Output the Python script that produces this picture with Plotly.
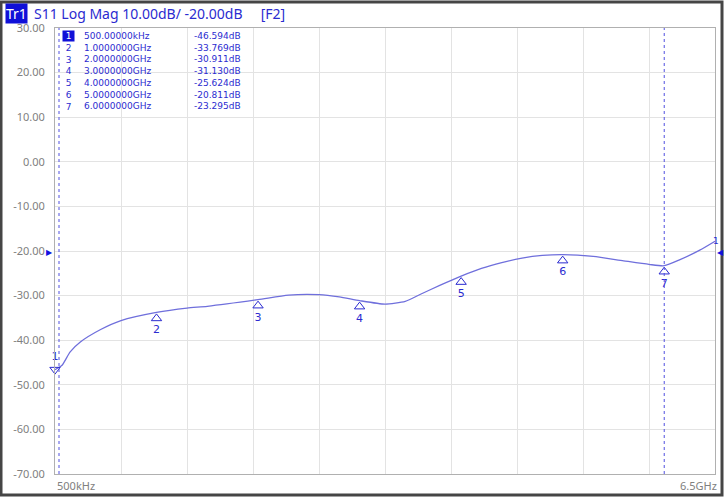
import plotly.graph_objects as go

# ---- data ----
freq_ghz = [0.0005, 0.07, 0.15, 0.25, 0.45, 0.65, 1.0, 1.3, 1.5, 2.0, 2.3, 2.6, 2.8,
            3.0, 3.25, 3.45, 3.6, 3.8, 4.0, 4.2, 4.4, 4.6, 4.8, 5.0, 5.3, 5.6,
            5.85, 6.0, 6.15, 6.35, 6.5]
s11_db = [-46.6, -45.6, -42.6, -40.4, -37.6, -35.6, -33.77, -32.8, -32.4, -30.91, -29.9,
          -29.8, -30.3, -31.13, -31.9, -31.3, -29.7, -27.6, -25.62, -23.9, -22.6, -21.6,
          -21.0, -20.81, -21.2, -22.2, -23.0, -23.3, -22.0, -19.8, -17.8]

marker_ids = ["1", "2", "3", "4", "5", "6", "7"]
marker_freq = [0.0005, 1.0, 2.0, 3.0, 4.0, 5.0, 6.0]
marker_db = [-46.594, -33.769, -30.911, -31.130, -25.624, -20.811, -23.295]
marker_freq_labels = ["500.00000kHz", "1.0000000GHz", "2.0000000GHz", "3.0000000GHz",
                      "4.0000000GHz", "5.0000000GHz", "6.0000000GHz"]

y_ticks = [30, 20, 10, 0, -10, -20, -30, -40, -50, -60, -70]
x_start, x_stop = 0.0005, 6.5
title_trace = "Tr1"
title_text = "S11 Log Mag 10.00dB/ -20.00dB     [F2]"
x_start_label, x_stop_label = "500kHz", "6.5GHz"

BLUE = "#2b2bd0"
LINE = "#6f6fdc"
GRID = "#e3e3e3"
FONT = "DejaVu Sans"
FONT2 = "Noto Sans"

L, R, T, B = 55, 9, 28, 23
W, H = 724, 497
pw, ph = W - L - R, H - T - B
db_per_px = 100.0 / ph

fig = go.Figure()

fig.add_trace(go.Scatter(x=freq_ghz, y=s11_db, mode="lines",
                         line=dict(color=LINE, width=1.3, shape="spline", smoothing=0.6),
                         hoverinfo="skip", showlegend=False))

# markers on the trace (2..7 : up triangle below curve, label below)
up_x = marker_freq[1:]
up_y = [v - 6 * db_per_px for v in marker_db[1:]]
fig.add_trace(go.Scatter(x=up_x, y=up_y, mode="markers+text",
                         marker=dict(symbol="triangle-up-open", size=9, color=BLUE,
                                     line=dict(width=1, color=BLUE)),
                         text=marker_ids[1:], textposition="bottom center",
                         textfont=dict(family=FONT, size=11, color=BLUE),
                         cliponaxis=False, showlegend=False, hoverinfo="skip"))
# marker 1 : down triangle, label above
fig.add_trace(go.Scatter(x=[marker_freq[0]], y=[marker_db[0]], mode="markers+text",
                         marker=dict(symbol="triangle-down-open", size=9, color=BLUE,
                                     line=dict(width=1, color=BLUE)),
                         text=[marker_ids[0]], textposition="top center",
                         textfont=dict(family=FONT, size=11, color=BLUE),
                         cliponaxis=False, showlegend=False, hoverinfo="skip"))

# stimulus markers along bottom
fig.add_trace(go.Scatter(x=marker_freq[1:], y=[y_ticks[-1] - 3 * db_per_px] * 6, mode="markers",
                         marker=dict(symbol="triangle-up-open", size=9, color="#6f6fdc",
                                     line=dict(width=1, color="#6f6fdc")),
                         cliponaxis=False, showlegend=False, hoverinfo="skip"))
fig.add_trace(go.Scatter(x=[marker_freq[0]], y=[y_ticks[-1] - 1 * db_per_px], mode="markers",
                         marker=dict(symbol="triangle-up", size=9, color="#1010e0"),
                         cliponaxis=False, showlegend=False, hoverinfo="skip"))

shapes = []
# dotted marker lines
for fx, px in [(marker_freq[0], 4), (marker_freq[-1], 0)]:
    shapes.append(dict(type="line", xref="x", yref="paper", xsizemode="pixel", xanchor=fx,
                       x0=px, x1=px, y0=0, y1=1,
                       line=dict(color="#5050e0", width=1, dash="dot")))
# outer frame
shapes.append(dict(type="rect", xref="paper", yref="paper",
                   x0=(1 - L) / pw, x1=(W - 2 - L) / pw,
                   y0=-(B - 2) / ph, y1=1 + (T - 2) / ph,
                   line=dict(color="#454545", width=3), layer="below"))

annotations = []
# title bar
ty = 1 + (T - 14) / ph
annotations.append(dict(xref="paper", yref="paper", x=(5 - L) / pw, y=ty,
                        xanchor="left", yanchor="middle", showarrow=False,
                        text=title_trace, bgcolor="#1010d8", borderpad=0,
                        font=dict(family=FONT2, size=14, color="white")))
annotations.append(dict(xref="paper", yref="paper", x=(32 - L) / pw, y=ty,
                        xanchor="left", yanchor="middle", showarrow=False,
                        text=title_text.replace(" ", "&nbsp;"),
                        font=dict(family=FONT2, size=14, color=BLUE)))

# marker table (one annotation per column)
TF = 9
line_h = 1.3 * TF
top_px = 2  # top of first row below plot top
annotations.append(dict(xref="paper", yref="paper", x=(62 - L) / pw, y=1 - top_px / ph,
                        xanchor="left", yanchor="top", showarrow=False,
                        text="&nbsp;" + marker_ids[0] + "&nbsp;", bgcolor="#1010d8",
                        borderpad=0, font=dict(family=FONT, size=TF, color="white")))
annotations.append(dict(xref="paper", yref="paper", x=(62 - L) / pw,
                        y=1 - (top_px + line_h) / ph, xanchor="left", yanchor="top",
                        align="left", showarrow=False, borderpad=0,
                        text="<br>".join("&nbsp;" + m for m in marker_ids[1:]),
                        font=dict(family=FONT, size=TF, color=BLUE)))
annotations.append(dict(xref="paper", yref="paper", x=(83 - L) / pw, y=1 - top_px / ph,
                        xanchor="left", yanchor="top", align="left", showarrow=False,
                        borderpad=0, text="<br>".join(marker_freq_labels),
                        font=dict(family=FONT, size=TF, color=BLUE)))
annotations.append(dict(xref="paper", yref="paper", x=(242 - L) / pw, y=1 - top_px / ph,
                        xanchor="right", yanchor="top", align="right", showarrow=False,
                        borderpad=0, text="<br>".join(f"{v:.3f}dB" for v in marker_db),
                        font=dict(family=FONT, size=TF, color=BLUE)))

# x start/stop labels
annotations.append(dict(xref="paper", yref="paper", x=0, y=-2 / ph, xanchor="left",
                        yanchor="top", showarrow=False, text=x_start_label,
                        font=dict(family=FONT2, size=11, color="#808080")))
annotations.append(dict(xref="paper", yref="paper", x=(719 - L) / pw, y=-2 / ph,
                        xanchor="right", yanchor="top", showarrow=False, text=x_stop_label,
                        font=dict(family=FONT2, size=11, color="#808080")))
# reference level markers
annotations.append(dict(xref="paper", yref="y", x=-1 / pw, y=-20, xanchor="right",
                        yanchor="middle", showarrow=False, text="▶", borderpad=0,
                        font=dict(size=8, color="#1010e0")))
annotations.append(dict(xref="paper", yref="y", x=1 + 0.5 / pw, y=-20, xanchor="left",
                        yanchor="middle", showarrow=False, text="◀", borderpad=0,
                        font=dict(size=8, color="#1010e0")))
annotations.append(dict(xref="paper", yref="y", x=1 - 3 / pw, y=s11_db[-1], xanchor="left",
                        yanchor="middle", showarrow=False, text="1", borderpad=0,
                        font=dict(family=FONT, size=9, color=BLUE)))

fig.update_layout(
    width=W, height=H, autosize=False,
    margin=dict(l=L, r=R, t=T, b=B, pad=0),
    paper_bgcolor="white", plot_bgcolor="white",
    shapes=shapes, annotations=annotations,
    xaxis=dict(range=[x_start, x_stop], tick0=x_start, dtick=(x_stop - x_start) / 10,
               showticklabels=False, showgrid=True, gridcolor=GRID, gridwidth=1,
               zeroline=False, showline=True, linecolor="#b0b0b0", linewidth=1, mirror=True,
               ticks=""),
    yaxis=dict(range=[y_ticks[-1], y_ticks[0]], tickvals=y_ticks,
               ticktext=[f"{v:.2f}" for v in y_ticks], showgrid=True, gridcolor=GRID,
               zeroline=False, showline=True, linecolor="#b0b0b0", linewidth=1, mirror=True,
               ticks="", ticklabelstandoff=7,
               tickfont=dict(family=FONT2, size=11, color="#808080")),
)

fig.write_html("out.html", config={"displayModeBar": False},
               post_script="document.body.style.margin='0';")
